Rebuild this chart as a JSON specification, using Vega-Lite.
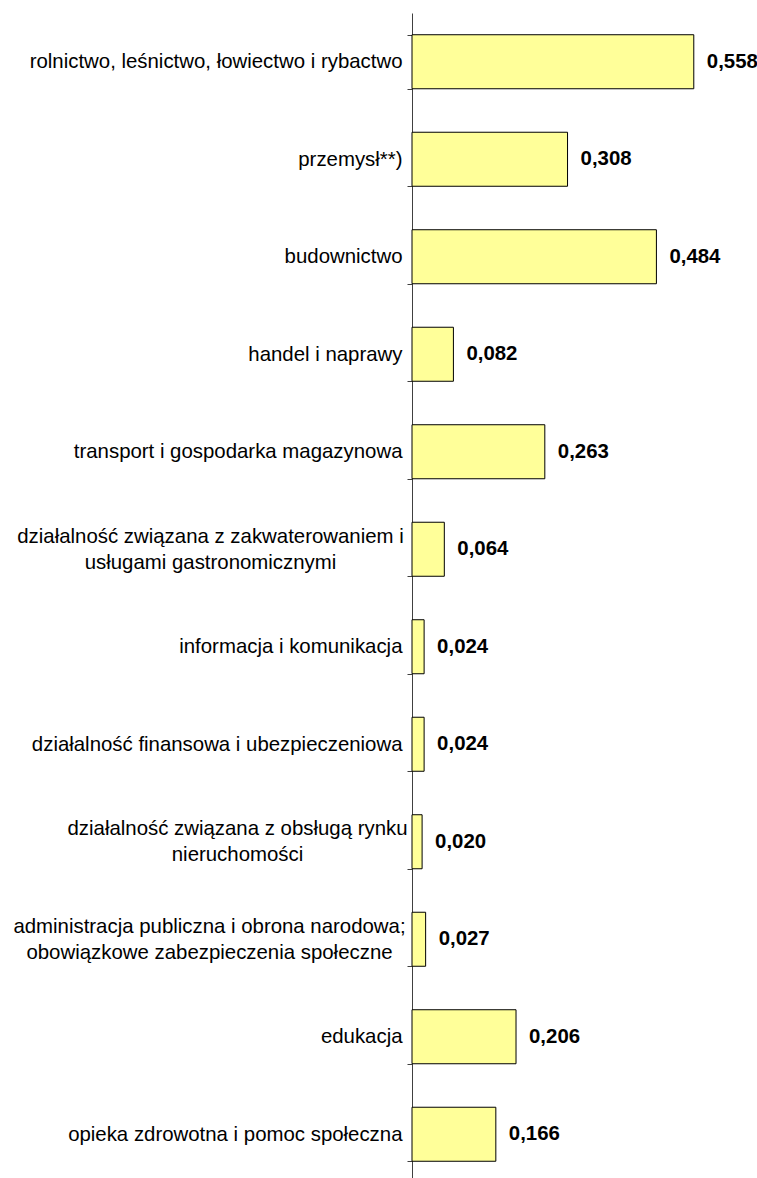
{
  "$schema": "https://vega.github.io/schema/vega-lite/v6.json",
  "width": 303,
  "height": 1170,
  "autosize": {"type": "none"},
  "padding": {"left": 412, "top": 13, "right": 42, "bottom": 0},
  "background": "white",
  "config": {
    "view": {"stroke": null},
    "locale": {"number": {"decimal": ",", "thousands": " ", "grouping": [3], "currency": ["", " zł"]}},
    "font": "Liberation Sans"
  },
  "data": {
    "values": [
      {"sekcja": "rolnictwo, leśnictwo, łowiectwo i rybactwo", "wartosc": 0.558},
      {"sekcja": "przemysł**)", "wartosc": 0.308},
      {"sekcja": "budownictwo", "wartosc": 0.484},
      {"sekcja": "handel i naprawy", "wartosc": 0.082},
      {"sekcja": "transport i gospodarka magazynowa", "wartosc": 0.263},
      {"sekcja": "działalność związana z zakwaterowaniem i|usługami gastronomicznymi", "wartosc": 0.064},
      {"sekcja": "informacja i komunikacja", "wartosc": 0.024},
      {"sekcja": "działalność finansowa i ubezpieczeniowa", "wartosc": 0.024},
      {"sekcja": "działalność związana z obsługą rynku|nieruchomości", "wartosc": 0.020},
      {"sekcja": "administracja publiczna i obrona narodowa;|obowiązkowe zabezpieczenia społeczne", "wartosc": 0.027},
      {"sekcja": "edukacja", "wartosc": 0.206},
      {"sekcja": "opieka zdrowotna i pomoc społeczna", "wartosc": 0.166}
    ]
  },
  "encoding": {
    "y": {
      "field": "sekcja",
      "type": "nominal",
      "sort": null,
      "scale": {"paddingInner": 0.446, "paddingOuter": 0.223},
      "axis": {
        "title": null,
        "orient": "left",
        "domain": true,
        "domainColor": "#404040",
        "domainWidth": 1,
        "ticks": true,
        "tickBand": "extent",
        "tickColor": "#404040",
        "tickSize": 5,
        "labelFont": "Liberation Sans",
        "labelFontSize": 20.4,
        "labelColor": "#000000",
        "labelLimit": 0,
        "labelLineHeight": 26,
        "labelBaseline": "middle",
        "labelExpr": "isValid(datum.value) ? split(datum.value, '|') : ''",
        "labelAlign": {
          "condition": {"test": "isValid(datum.value) && indexof(datum.value, '|') >= 0", "value": "center"},
          "value": "right"
        },
        "labelOffset": {
          "condition": {"test": "isValid(datum.value) && indexof(datum.value, '|') >= 0", "value": -13},
          "value": 0
        },
        "labelPadding": {
          "condition": [
            {"test": "isValid(datum.value) && indexof(datum.value, 'zakwater') >= 0", "value": 197},
            {"test": "isValid(datum.value) && indexof(datum.value, 'rynku') >= 0", "value": 170},
            {"test": "isValid(datum.value) && indexof(datum.value, 'administracja') >= 0", "value": 198}
          ],
          "value": 5
        }
      }
    },
    "x": {
      "field": "wartosc",
      "type": "quantitative",
      "scale": {"domain": [0, 0.6], "nice": false, "zero": true},
      "axis": null
    }
  },
  "layer": [
    {
      "mark": {"type": "bar", "fill": "#FFFF99", "stroke": "#000000", "strokeWidth": 1}
    },
    {
      "mark": {"type": "text", "align": "left", "baseline": "middle", "dx": 13, "font": "Liberation Sans", "fontSize": 20.4, "fontWeight": "bold", "color": "#000000"},
      "encoding": {
        "text": {"field": "wartosc", "type": "quantitative", "format": ".3f"}
      }
    }
  ]
}
